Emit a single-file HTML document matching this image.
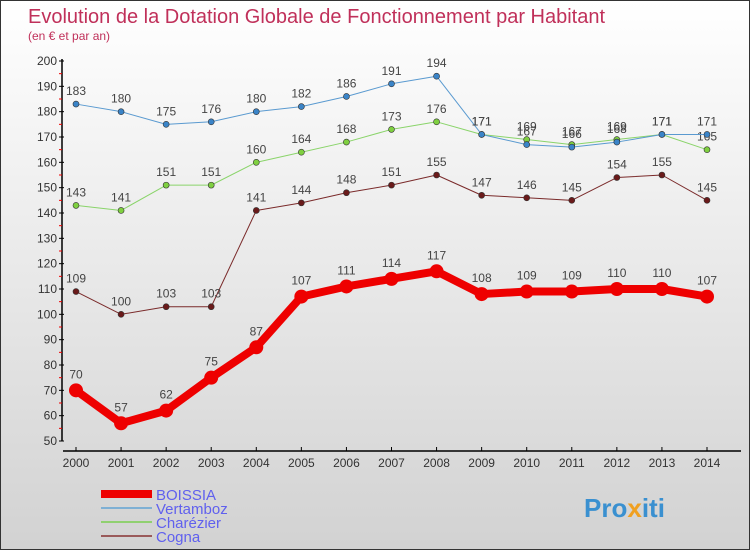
<!DOCTYPE html>
<html><head><meta charset="utf-8"><style>
body{margin:0;}
#c{width:748px;height:548px;border:1px solid #333;background:linear-gradient(#ffffff,#d2d2d2);position:relative;font-family:"Liberation Sans",sans-serif;overflow:hidden}
svg{position:absolute;left:0;top:0}
</style></head><body>
<div id="c">
<svg id="s" width="750" height="550">
<text x="27" y="22" font-size="20" fill="#c0305a">Evolution de la Dotation Globale de Fonctionnement par Habitant</text>
<text x="27" y="39" font-size="12" fill="#c0305a">(en € et par an)</text>
</svg>
</div>
<script>
const years=[2000,2001,2002,2003,2004,2005,2006,2007,2008,2009,2010,2011,2012,2013,2014];
const boissia=[70,57,62,75,87,107,111,114,117,108,109,109,110,110,107];
const vertamboz=[183,180,175,176,180,182,186,191,194,171,167,166,168,171,171];
const charezier=[143,141,151,151,160,164,168,173,176,171,169,167,169,171,165];
const cogna=[109,100,103,103,141,144,148,151,155,147,146,145,154,155,145];
const yTicks=[50,60,70,80,90,100,110,120,130,140,150,160,170,180,190,200];
const NS='http://www.w3.org/2000/svg';
const s=document.getElementById('s');
const X=i=>75+i*(706-75)/(years.length-1);
const Y=v=>440-(v-50)*380/150;
function el(t,a,p){const e=document.createElementNS(NS,t);for(const k in a)e.setAttribute(k,a[k]);(p||s).appendChild(e);return e;}
// axes
const ya=el('line',{x1:61,y1:58,x2:61,y2:440,stroke:'#000','stroke-width':1.5});


const xa=el('line',{x1:62,y1:450,x2:740,y2:450,stroke:'#000','stroke-width':1.5});


yTicks.forEach((v,i)=>{
  el('line',{x1:58,y1:Y(v),x2:63,y2:Y(v),stroke:'#000'});
  if(i<yTicks.length-1) el('line',{x1:58,y1:Y(v+5),x2:61,y2:Y(v+5),stroke:'#e00'});
  const t=el('text',{x:56,y:Y(v)+4,'font-size':12,'text-anchor':'end',fill:'#333'});
  t.textContent=v;
  
  
});
years.forEach((yr,i)=>{
  el('line',{x1:X(i),y1:446,x2:X(i),y2:450,stroke:'#000'});
  const t=el('text',{x:X(i),y:466,'font-size':12,'text-anchor':'middle',fill:'#333'});
  t.textContent=yr;
  
  
});
function series(data,color,dot,w,r,name){
  const g=el('g',{});
  
  
  el('polyline',{points:data.map((v,i)=>X(i)+','+Y(v)).join(' '),fill:'none',stroke:color,'stroke-width':w,'stroke-linejoin':'round'},g);
  data.forEach((v,i)=>{
    const c=el('circle',{cx:X(i),cy:Y(v),r:r,fill:dot,stroke:'#333','stroke-width':r>5?0:0.6},g);
    
    
    const t=el('text',{x:X(i),y:Y(v)-(r>5?12:9),'font-size':12,'text-anchor':'middle',fill:'#444'},g);
    t.textContent=v;
    
    
  });
}
series(cogna,'#7a2a2a','#6a1a1a',1,3,'cogna');
series(charezier,'#8ad46a','#7fd040',1,3,'charezier');
series(vertamboz,'#5a9ad0','#3a84c8',1,3,'vertamboz');
series(boissia,'#ee0000','#ee0000',8,7,'boissia');
// legend
const leg=[['BOISSIA','#ee0000',8],['Vertamboz','#7fb0d4',2],['Charézier','#90d070',2],['Cogna','#9a5a5a',2]];
leg.forEach((l,i)=>{
  const y=493+i*14;
  const g=el('g',{});
  
  
  el('line',{x1:100,y1:y,x2:151,y2:y,stroke:l[1],'stroke-width':l[2]},g);
  const t=el('text',{x:155,y:y+6,'font-size':15,fill:'#6060ee'},g);
  t.textContent=l[0];
});
const p=el('text',{x:583,y:516,'font-size':26,'font-weight':'bold',fill:'#3a90d0'});


p.innerHTML='Pro<tspan fill="#f0a020">x</tspan>iti';
</script>
</body></html>
